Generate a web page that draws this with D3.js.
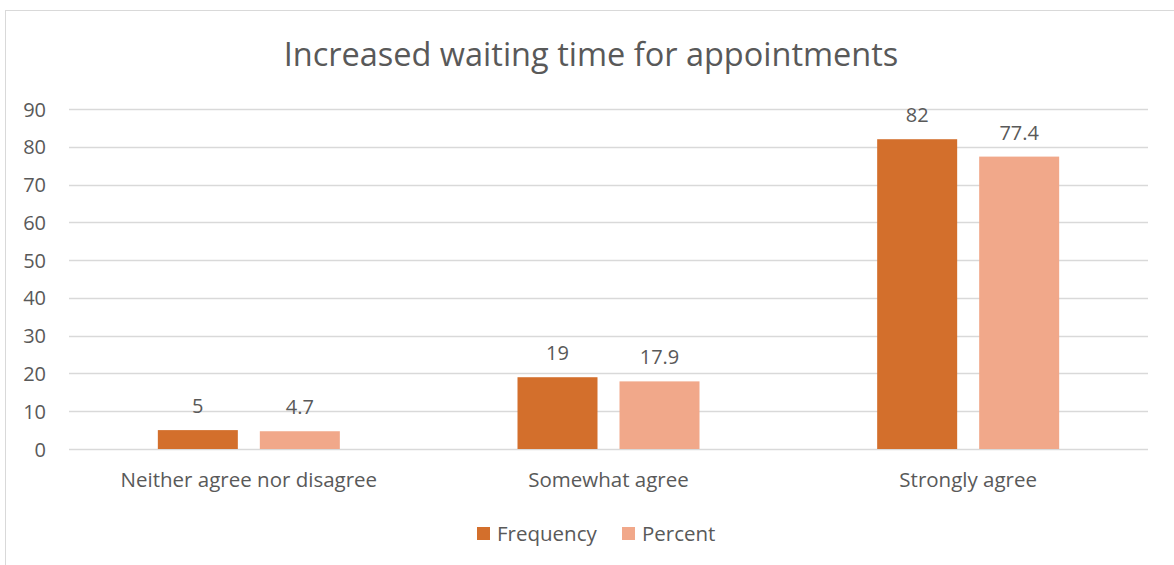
<!DOCTYPE html>
<html>
<head>
<meta charset="utf-8">
<script src="https://cdn.jsdelivr.net/npm/d3@7"></script>
<style>
html,body{margin:0;padding:0;background:#fff;}
svg text{font-family:"Open Sans",sans-serif;fill:#595959;}
</style>
</head>
<body>
<svg id="chart" width="1174" height="565"></svg>
<script>
const title = "Increased waiting time for appointments";
const categories = ["Neither agree nor disagree", "Somewhat agree", "Strongly agree"];
const seriesNames = ["Frequency", "Percent"];
const frequency = [5, 19, 82];
const percent = [4.7, 17.9, 77.4];
const yTicks = [0, 10, 20, 30, 40, 50, 60, 70, 80, 90];
const colors = ["#D36F2C", "#F1A88A"];

const svg = d3.select("#chart");
const values = [frequency, percent];

// frame
svg.append("rect").attr("x", 5.5).attr("y", 10.5).attr("width", 1200).attr("height", 600)
  .attr("fill", "#fff").attr("stroke", "#d9d9d9").attr("stroke-width", 1);

const y = d3.scaleLinear().domain([0, 90]).range([449, 109]);
const x0 = d3.scaleBand().domain(categories).range([69, 1148]).paddingInner(0).paddingOuter(0);
const x1 = d3.scaleBand().domain(seriesNames).range([0, 182]).paddingInner(22/102).paddingOuter(0);

// title
svg.append("text").attr("x", 591).attr("y", 66).attr("text-anchor", "middle")
  .style("font-size", "32.5px").text(title);

// gridlines
svg.append("g").selectAll("line").data(yTicks).join("line")
  .attr("x1", 69).attr("x2", 1148)
  .attr("y1", d => Math.round(y(d)) + 0.5).attr("y2", d => Math.round(y(d)) + 0.5)
  .attr("stroke", "#d9d9d9").attr("stroke-width", 1.3);

// y axis labels
const yAxis = d3.axisLeft(y).tickValues(yTicks).tickSize(0).tickPadding(0);
const ga = svg.append("g").attr("transform", "translate(46,0)").call(yAxis);
ga.select(".domain").remove();
ga.selectAll("text").style("font-size", "20px").attr("fill", "#595959")
  .attr("font-family", null).attr("dy", "0.35em");

// bars
const groups = svg.append("g").selectAll("g").data(categories).join("g")
  .attr("transform", c => `translate(${x0(c) + x0.bandwidth()/2 - 91},0)`);

groups.selectAll("rect").data((c, i) => seriesNames.map((s, j) => ({s, v: values[j][i], j})))
  .join("rect")
  .attr("x", d => x1(d.s)).attr("width", x1.bandwidth())
  .attr("y", d => y(d.v)).attr("height", d => y(0) - y(d.v))
  .attr("fill", d => colors[d.j]);

groups.selectAll("text.lbl").data((c, i) => seriesNames.map((s, j) => ({s, v: values[j][i], j})))
  .join("text").attr("class", "lbl")
  .attr("x", d => x1(d.s) + x1.bandwidth()/2).attr("y", d => y(d.v) - 17)
  .attr("text-anchor", "middle").style("font-size", "20px")
  .text(d => d.v);

// category labels
const xAxis = d3.axisBottom(x0).tickSize(0).tickPadding(0);
const gx = svg.append("g").attr("transform", "translate(0,487)").call(xAxis);
gx.select(".domain").remove();
gx.selectAll("text").style("font-size", "20.5px").attr("fill", "#595959")
  .attr("font-family", null).attr("dy", "0");

// legend
const legX = [477, 622];
const leg = svg.append("g").selectAll("g").data(seriesNames).join("g")
  .attr("transform", (d, i) => `translate(${legX[i]},527)`);
leg.append("rect").attr("width", 13).attr("height", 13).attr("fill", (d, i) => colors[i]);
leg.append("text").attr("x", 20).attr("y", 14).style("font-size", "20.5px").text(d => d);
</script>
</body>
</html>
